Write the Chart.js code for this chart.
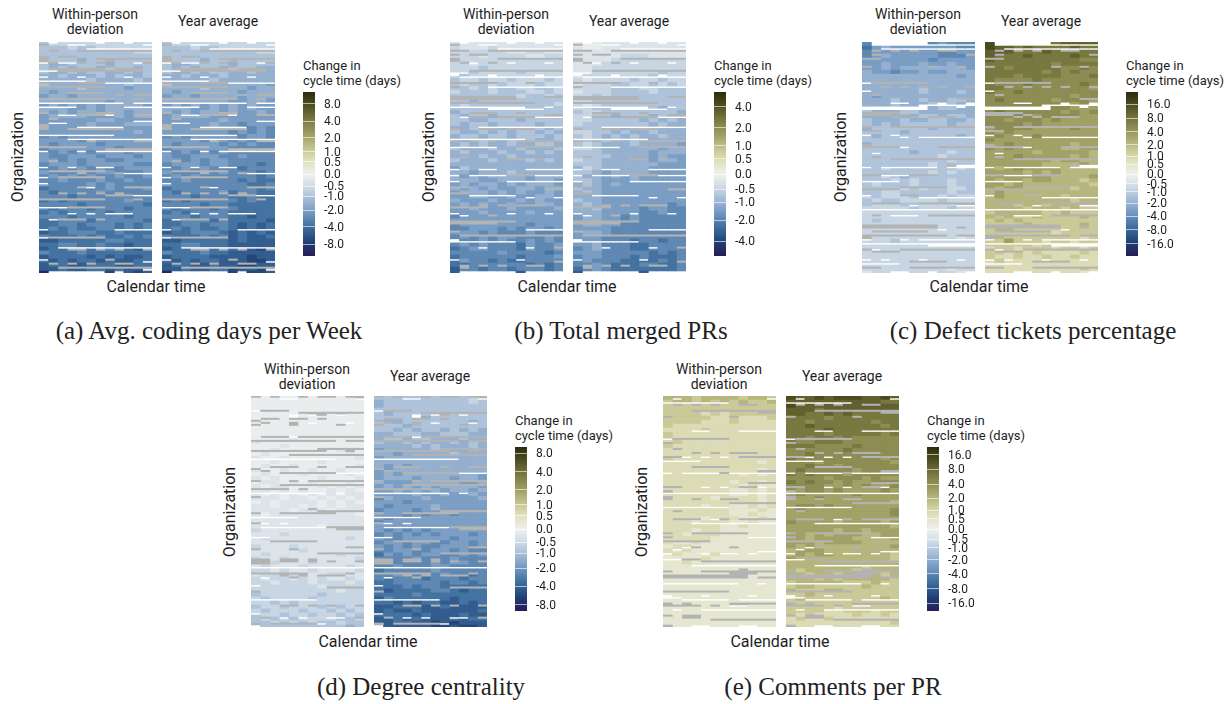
<!DOCTYPE html>
<html><head><meta charset="utf-8">
<script src="https://cdn.jsdelivr.net/npm/chart.js@4/dist/chart.umd.min.js"></script>
<style>
html,body{margin:0;padding:0;background:#fff;width:1231px;height:704px;overflow:hidden}
#root{position:relative;width:1231px;height:704px}
canvas{position:absolute;display:block}
canvas.heat{filter:blur(.45px)}
.t{position:absolute;font-family:Roboto,sans-serif;color:#1e1e1e;white-space:nowrap;line-height:1}
.c{transform:translate(-50%,-50%);text-align:center}
.cap{position:absolute;font-family:"Liberation Serif",serif;font-size:25px;color:#222;white-space:nowrap;transform:translate(-50%,-50%);line-height:1}
</style></head><body><div id="root"></div>
<script>
// Shade codes: 0-9,x = blue side (light to dark); a-j = olive side (light to dark)
const columns = ['1','2','3','4','5','6','7','8','9','10','11','12'];
const ticks8 = ['8.0','4.0','2.0','1.0','0.5','0.0','-0.5','-1.0','-2.0','-4.0','-8.0'];
const ticks4 = ['4.0','2.0','1.0','0.5','0.0','-0.5','-1.0','-2.0','-4.0'];
const ticks16 = ['16.0','8.0','4.0','2.0','1.0','0.5','0.0','-0.5','-1.0','-2.0','-4.0','-8.0','-16.0'];

const withinA = ["322222222222","333233222222","333333333322","333333333333","333343333333","344333343333","343433433343","344343344343","443444343443","444443444434","344444444344","444434444544","454444444444","544544444444","444444454444","545454544445","444554544444","454544544544","544445554544","555555445555","555554555444","455555545555","555555555545","656555555555","555565555555","565555655555","655555556555","565656555655","566555655565","556565566555","655565555566","665656566555","566656556665","656565665665","665666566566","566665656666","766666656665","676666566666","666766666666","767666666566","666676666667","676667666766","767666676666","666766666766","776667666667","776676667676","767677667676","877666776777","677767677676","887777766777","776677677877","877777767787","677767777777","877778787887","787877878877","877887778877","887887787887","x88888998898"];
const yearA = ["322222222222","333233222222","333333333322","333333333333","333343333333","344333343333","343433433344","344343344344","443444344444","444443444444","344444444445","444434444544","454444445444","544544445444","444444455445","545454545455","444554545455","454544545545","544445555555","555555455555","555554556555","455555555656","555555565656","656555556556","555565565666","565555656566","655555566666","565656566666","566555665666","556565566666","655565566676","665656667666","566656566676","656566666676","665666667677","566666666776","766666666676","676666576677","666766677677","767666667677","666676677777","676667667777","767666677777","666766677877","776667677778","776676678787","767677678787","877666787878","677767687887","887777787888","776677788888","877777778898","677767788888","877778888988","787877888998","877887889988","887887798898","x88888999998"];
const withinB = ["111111111111","211121111111","222222112211","222122221122","222222222222","221222222222","222322222222","223222232222","232222222322","322322322232","323323222322","332323322332","233323332232","333333323323","334333333333","323333333332","333333433333","433333333333","343343333343","334433343333","343343333433","443334344343","344343433434","433433433343","344334343443","434344344334","344434434443","434443443434","444344344444","344434443434","444444444444","534444444444","445444344444","454544445444","444554445445","545445454445","454545544544","544454545545","554455455445","455545545455","545455455445","554555455554","555455554555","655555555555","555555555555","655555556555","665556565565","555656665666","656565566656","766565665656","656566675665","765566675665","666665666676","766666676665","756676776666","776666667676","866766766676","887777888777"];
const yearB = ["000111111111","100111111111","111111111111","111112221111","111122222222","111222222222","112222222222","112222222322","122222223222","212222322322","122233223232","222233322333","122233332333","223233333333","223333333333","212333333333","223333343433","322333333334","223343334344","223333343434","233333334344","333334344444","223343443444","323434344344","233334344444","323444344445","223444444544","333444445444","333344445455","233444445445","333444444555","423444445555","334544445555","344545455555","334555455555","434545555555","344555555555","434555555555","444555555555","344555555555","434555555565","443555565566","444555566566","544556566666","544556566666","544556666666","555566666666","544566666666","555666666666","655666766766","554666776666","654666776666","555666667676","655666767776","656667777676","665677766776","765677777776","877777788777"];
const withinC = ["655555565666","754555555566","655555556655","654555556665","555555565555","554555455455","554544444445","455655455444","444444444454","444444444444","444444444444","444444344444","444444344434","454444444444","444344344334","444344433343","434444443344","344433444444","444444334334","344434433443","343433333433","433333343333","333343333333","343333333343","333333333333","433333333333","333333333333","333334333233","333333332333","333333333233","333333323333","332333333323","333333323233","332343333333","333232333233","323332333233","333323233223","332233333233","232223332322","323322223222","322233222222","222223222322","222222222222","222222222222","232222222222","222222222222","222222222222","222222222222","222222222212","222322222222","222222222222","222222222222","222222222222","222222222222","222222222222","222222222222","222222222122","122222222212"];
const yearC = ["ihgggghghhhh","ihhghgggghgg","hhhggghggggg","hggghgggghgg","hgggggggggff","gggggggfgggg","ggfgggggffgf","ggggggfgfgff","gggfggggfffg","gffffgffffff","gfffgfffffgf","ggfffffffffe","gffgffffffff","fffffffffeff","fgfffffefffe","fffffffffeff","gfffffeffeee","fgffffffefef","fffffeffffee","ffefffefeeee","ffffefeeeeee","effffeeeefee","fefeeeeeeeee","efeeefeeeeee","feeeeeeeeeee","eefeeeeeedee","fefeeeeeddee","eeeeedeeeeed","eeefeeeeeded","eeeeeeedeedd","eeeeeedddded","edefeeeedddd","eeeedededddd","eeeeeeedddde","edeedeedddcd","eededddddddc","edeedddddcdd","dedddddddddd","deddddddcddd","dddddddddcdd","dddcddcddddc","ddddcdddcdcc","cdddddccdccc","dcdccdccccdc","cdcdcccccccc","ccccdcccccdc","cddccccccccc","cccccccbcccc","cdccccccccbc","ccecccbccbcc","cccccbcccbbb","bccbcccbccbc","ccbcbcbbbbcb","cbbcbbcbbcbb","bcbbbbbbbbbb","bbbbbbbbbbbb","bbbbbbbbbbcb","bbbbbbbbbbab"];
const withinD = ["000000000000","000000000000","000000000000","000000000000","000000000000","000000000000","000000000000","000000000000","000000000000","000000000000","000010000000","100000000000","000100000000","001000000100","010000000010","100100000001","001000010000","010010000001","100100100100","010001000010","101000010001","011010100010","101100010101","110101001010","101010101011","111011010101","010111101010","110110101011","111101110111","101111111110","111111111111","111111111111","111111101111","211111111111","111211111111","121111111121","111111111111","211121111111","111112111111","121111111211","211211111112","112111211111","121112111121","221211211112","122121112211","212212121121","221222122212","222222212222","222222222122","322222232222","232222322222","223232222222","322322232322","232223223232","322322322323","323232222332","332323233233","433333333343"];
const yearD = ["333333333323","433333333323","433333333333","333333333333","343333333333","333334333333","344333333343","333433333333","334343343434","443334433344","433433444344","344343443434","444434344434","544444344444","445444443444","544444444444","444444444444","454544444444","554444444444","545444444445","544454445445","455544444554","545454544445","554545454454","555545545545","645554555554","555655555555","565555455555","655565555555","555656556555","565555555555","655555555555","555555555555","565656555555","656565655565","566555556555","655655665565","565656655565","665566556566","756565566565","666656665666","576666565566","665666556666","766666566666","665766656676","676667666766","776666676676","777676677777","787777667877","777767777777","867777778777","778787788787","887778878888","878878888887","777787888788","887878887877","887788989888","x88888998998"];
const withinE = ["dddcddddcddc","cddcdcdcdccd","cccccccccccc","cccccccccccc","ccccbcbccccc","cccccbbcbbbc","ccccbbbcbbbb","cbbbbbbbbbbb","bbbbcbbbbbbb","cbbbbbbbbbbb","cbbbbbbbbbbb","bcbbbbbbbbbb","cbbbbbbbbbbb","bbbbbbbbbbbb","bbbbbbbbbbbb","cbbbbbbbbbbb","bbbbbbbbbbab","bbbbbbbbbbbb","bbbbbbbbbbab","bbbbbbbbabab","bbbbbbbbbbbb","bbbbbbbabbab","bbbbbbbbabaa","bbbbbbbaabab","bbbbbbbaabab","bbbbbabbbbab","bbbbbbbbbbab","bbbbabbaabab","bbbbbbbaaaba","bbbbbbbaabaa","bbbbabbbaaba","bbbabbbaabaa","bbbbbbaabaaa","bbbabbaaaaaa","bbabbbaaaaaa","bbbbbaaaaaaa","baabaaaaaaaa","abbaaaaaaaaa","babaaaaaaaaa","abaaabaaaaaa","aaaabaaaaaaa","aabaaaaaaaaa","aaaaaaaaaaaa","aaaaaaaaaaaa","aaaaaaaaaaaa","aaaaaaaaaaaa","aaaaaaaaaaaa","aaaaaaaaaaaa","aaaaaaaaaaaa","aaaaaaaaaaaa","aaaaaaaaaaaa","aaaaaaaaaaaa","aaaaaaaaaaaa","aaaaaaaaaaaa","aaaaaaaaaaaa","aaaaaaaaaaaa","aaaaaaaaaaaa","aaaaaaaaaaaa"];
const yearE = ["ihhihiiihhih","hhhhhhhhhhgg","ihhhhhhhhhhh","hhhghhhhhhhh","hhgghghggggg","ggggfggggggg","ggfggggggfgg","gghgggggggfg","gggghggggggg","ggggfgggggfg","ggfggfgfffff","gffgggffffff","gggffffgffff","ffffffgfffff","ffgfffffffff","gfffffffffef","fffefffffffe","ffgffeffffff","fgfffffeffff","gfgfffefffff","ffffefffefee","gfgffefeefff","ffffeefefeef","feffefeeeefe","efeeeeefeeee","feefeeeeeeee","eeeeeeeeeeed","effefeeeeeee","efeeeeeeeeef","eeeeeeeeeeef","eeeeeeeeeeee","feeeedeeeede","eeeeeeeeeeed","eeeeedeedeee","eededeeeddee","eedeeeedddde","eeedeeeedddd","ededddddddde","deeedddddddd","dedeeddddddc","eddddddddddc","dddddddddddd","ddddddddcddd","dcdddddcdddd","ddcddcddcdcd","dddcdcdddddc","cdddddcccdcc","cddcccccdccc","dcccddcccccc","ccdccccccccc","cdccccccccdc","cccccccccccc","cccccbcccccc","ccccbbcccbcc","cbcbbbbcbbcb","bcbbcbbbbbbb","bbbbbbbbbbbc","bbbbbbbbbbbb"];

// Missing cells per panel: [organization row, first column, last column]
const whiteA = [[0,1,1],[0,6,6],[0,9,9],[1,3,4],[1,11,11],[3,5,11],[10,0,0],[10,2,3],[10,10,10],[14,0,1],[17,0,0],[17,4,4],[17,9,9],[19,0,4],[20,7,11],[30,0,8],[30,10,11],[32,0,3],[32,9,11],[36,2,3],[36,7,7],[39,10,11],[40,1,2],[42,4,8],[46,0,7],[48,3,11],[54,0,0],[54,4,4],[54,6,11],[62,0,0],[62,3,3],[62,6,7],[65,9,11],[67,0,0],[70,0,0],[72,5,5],[76,10,11],[82,0,2],[85,3,3],[85,5,5],[85,7,9],[88,1,1],[93,0,0],[93,8,11],[97,0,0],[102,2,11],[108,0,0],[109,11,11],[113,11,11],[114,1,6],[114,8,8]];
const grayA = [[1,0,0],[4,1,1],[4,4,4],[4,5,11],[7,0,0],[7,2,3],[8,0,0],[8,6,11],[9,0,0],[9,7,7],[10,1,1],[10,4,4],[10,6,6],[10,11,11],[12,7,7],[13,1,6],[13,8,10],[14,2,10],[20,0,0],[20,4,6],[22,0,6],[25,3,6],[26,8,8],[26,10,11],[28,0,7],[28,10,10],[35,0,0],[35,6,7],[36,4,6],[36,10,11],[38,1,1],[41,0,0],[42,0,0],[43,0,0],[43,3,8],[49,5,5],[49,10,11],[52,0,4],[53,7,11],[59,1,1],[64,1,6],[65,4,4],[65,8,8],[67,2,6],[72,4,4],[72,9,11],[75,2,2],[75,4,4],[75,6,6],[75,8,8],[76,7,9],[78,0,6],[78,10,10],[82,3,6],[88,2,4],[88,6,6],[97,1,6],[103,3,4],[103,6,6],[103,8,8],[103,11,11],[108,7,7],[110,1,1],[110,3,3],[110,5,5],[110,8,9],[112,2,11]];
const whiteB = [[0,1,1],[0,6,6],[0,9,9],[1,3,4],[1,11,11],[3,5,11],[10,2,2],[10,6,6],[10,10,10],[15,0,1],[16,0,0],[16,4,4],[16,9,9],[17,1,11],[22,4,7],[22,8,11],[32,0,7],[32,10,10],[33,4,9],[37,1,1],[37,9,11],[42,3,11],[48,0,7],[52,0,4],[63,0,0],[63,3,4],[63,8,11],[66,0,0],[66,2,5],[66,9,11],[69,0,0],[69,6,11],[76,2,6],[77,8,8],[77,11,11],[85,0,0],[85,6,6],[85,10,10],[86,1,1],[93,8,11],[98,0,0],[99,0,6],[102,3,3],[102,8,8],[108,0,0],[108,7,7],[114,1,6],[114,8,11]];
const grayB = [[1,0,0],[4,0,1],[4,4,4],[4,5,11],[6,0,0],[6,2,3],[8,0,0],[8,5,11],[9,0,0],[10,1,1],[10,4,4],[14,2,11],[20,0,4],[20,8,8],[22,0,0],[27,0,6],[27,10,11],[28,0,6],[30,0,8],[35,2,4],[35,7,7],[36,10,11],[37,2,3],[37,5,8],[43,0,0],[43,3,4],[43,6,8],[49,0,0],[49,2,2],[49,4,4],[49,7,11],[52,7,11],[57,1,1],[58,6,7],[58,9,9],[66,6,8],[72,0,1],[73,10,11],[75,0,1],[81,3,3],[81,5,5],[81,7,9],[82,0,3],[86,4,4],[89,0,6],[90,0,4],[94,0,0],[96,1,11],[102,11,11],[109,11,11],[111,1,1],[111,3,3],[111,5,5],[111,8,9],[112,1,1]];
const whiteC = [[0,1,6],[1,1,11],[3,2,9],[3,10,11],[20,0,0],[24,0,0],[30,3,4],[30,8,8],[30,11,11],[31,6,11],[32,0,6],[32,10,10],[33,0,6],[46,0,0],[46,3,3],[47,4,4],[47,6,8],[47,9,11],[52,4,4],[55,1,1],[61,10,11],[62,0,0],[62,2,6],[62,7,7],[62,9,11],[66,2,4],[69,0,3],[76,0,0],[77,6,11],[81,5,5],[81,10,11],[83,0,11],[86,3,5],[93,8,8],[98,0,0],[98,4,4],[98,6,8],[98,9,11],[100,0,11],[101,7,11],[103,1,1],[108,0,0],[108,2,2],[108,6,6],[108,10,10],[110,0,3],[114,3,4],[114,7,7],[114,11,11]];
const grayC = [[4,1,1],[4,3,3],[4,5,5],[4,8,9],[6,1,1],[6,11,11],[8,0,1],[12,0,0],[12,7,7],[12,10,10],[20,1,6],[22,2,2],[22,4,4],[22,6,6],[22,8,8],[22,11,11],[26,1,1],[28,10,11],[35,0,3],[36,0,2],[36,4,4],[37,3,3],[37,5,5],[37,7,9],[42,0,0],[42,3,11],[44,0,1],[51,0,0],[52,0,3],[52,8,11],[57,1,1],[58,3,11],[61,9,9],[66,0,1],[66,5,7],[72,4,8],[73,0,3],[76,4,5],[80,1,3],[80,6,11],[86,1,1],[86,7,11],[91,0,7],[92,0,7],[92,10,10],[94,1,6],[96,0,8],[96,10,11],[97,0,0],[103,0,0],[103,4,11],[104,1,3],[109,5,8],[112,0,1],[112,5,11]];
const whiteD = [[1,3,4],[1,11,11],[7,0,0],[9,4,4],[9,6,6],[9,9,9],[10,4,4],[13,6,6],[13,10,10],[20,4,4],[31,0,8],[38,9,11],[48,0,7],[48,9,9],[60,0,4],[63,1,1],[63,3,3],[65,1,7],[70,0,1],[85,0,11],[90,1,1],[94,0,0],[101,0,6],[108,0,0],[110,3,3],[110,5,5],[110,8,9],[113,7,7],[114,0,0]];
const grayD = [[0,0,0],[0,2,2],[0,5,5],[0,7,8],[0,10,11],[7,1,2],[7,3,3],[8,5,11],[9,7,7],[11,1,2],[11,4,5],[11,7,7],[12,0,0],[13,1,1],[13,4,4],[14,0,0],[14,4,4],[14,9,9],[20,1,3],[20,5,11],[22,0,8],[22,10,11],[26,7,11],[27,0,7],[27,10,10],[29,4,11],[35,2,4],[35,7,7],[35,10,11],[36,0,0],[37,1,1],[38,3,8],[42,0,0],[42,4,4],[42,6,11],[44,3,11],[46,0,3],[46,5,5],[50,0,0],[56,6,6],[57,7,11],[58,0,0],[58,3,8],[63,0,0],[65,8,11],[66,9,11],[72,2,6],[75,10,11],[76,0,0],[76,4,4],[78,7,11],[81,0,1],[81,3,4],[81,6,6],[82,0,1],[82,3,4],[82,6,6],[82,8,8],[82,11,11],[83,0,1],[88,0,5],[88,10,10],[89,3,3],[89,5,5],[89,7,9],[90,4,4],[95,8,11],[97,0,0],[104,3,4],[104,6,6],[104,8,8],[104,11,11],[110,1,1],[110,11,11],[113,0,0],[113,2,6]];
const whiteE = [[1,1,1],[1,11,11],[3,0,6],[17,3,4],[17,8,11],[21,0,0],[30,2,2],[30,4,4],[30,6,6],[32,0,3],[38,0,0],[38,2,5],[38,7,11],[45,4,4],[45,6,6],[45,10,10],[48,0,11],[55,0,6],[61,5,5],[63,3,11],[70,9,11],[75,2,2],[76,1,1],[77,10,11],[78,0,0],[78,4,4],[78,6,7],[78,9,9],[81,0,1],[84,3,11],[93,0,7],[93,10,10],[99,0,0],[99,4,4],[99,9,9],[100,0,1],[101,2,6],[101,8,11],[104,7,8],[106,1,1],[106,4,11],[114,3,4],[114,8,9]];
const grayE = [[4,1,1],[4,3,3],[4,5,5],[4,8,9],[7,3,11],[8,10,11],[10,0,0],[10,7,7],[21,1,6],[23,0,0],[26,1,1],[28,3,3],[28,5,5],[28,7,9],[30,0,1],[30,8,11],[35,3,6],[37,10,11],[38,6,6],[43,9,11],[45,0,1],[45,8,9],[47,0,0],[50,0,0],[51,0,0],[51,3,3],[51,6,7],[53,7,11],[57,1,1],[61,1,3],[61,6,6],[61,8,11],[68,0,0],[68,3,8],[70,0,0],[72,0,4],[75,3,3],[75,7,7],[81,2,3],[82,4,11],[86,8,8],[87,0,0],[87,4,11],[88,7,9],[89,0,8],[90,0,8],[90,10,11],[97,0,6],[103,0,0],[103,2,2],[103,7,11],[104,0,3],[104,5,5],[109,0,0],[109,2,3],[110,2,3],[111,5,7],[111,8,11],[114,0,0]];

const rampStops = [[-1,'#2a1b58'],[-.854,'#1e3b70'],[-.646,'#3f6f9f'],[-.445,'#7c9ec5'],[-.29,'#a9bfd8'],[-.17,'#cbd8e5'],[-.03,'#e9edee'],[0,'#f0f0ec'],[.17,'#dedfbc'],[.29,'#c9c997'],[.445,'#a6a66b'],[.646,'#7c7c44'],[.854,'#4b4b1f'],[1,'#2c2b0d']];
const panels = [
 {dx:0,dy:0,heatDy:0,within:withinA,year:yearA,white:whiteA,gray:grayA,ticks:ticks8,scale:3.25,cap:'(a) Avg. coding days per Week',capX:209,capY:330},
 {dx:411,dy:0,heatDy:0,within:withinB,year:yearB,white:whiteB,gray:grayB,ticks:ticks4,scale:2.55,cap:'(b) Total merged PRs',capX:621,capY:330},
 {dx:823,dy:0,heatDy:0,within:withinC,year:yearC,white:whiteC,gray:grayC,ticks:ticks16,scale:4.07,cap:'(c) Defect tickets percentage',capX:1033,capY:330},
 {dx:212,dy:355,heatDy:-1,within:withinD,year:yearD,white:whiteD,gray:grayD,ticks:ticks8,scale:3.0,cap:'(d) Degree centrality',capX:421,capY:686},
 {dx:624,dy:355,heatDy:-1,within:withinE,year:yearE,white:whiteE,gray:grayE,ticks:ticks16,scale:3.82,cap:'(e) Comments per PR',capX:833,capY:686}
];
const ROWS = 115, NA = '#b2b3b3';
const root = document.getElementById('root');

function hex(c){return [1,3,5].map(i=>parseInt(c.substr(i,2),16));}
function ramp(f){
  for(let i=1;i<rampStops.length;i++){
    const [f0,c0]=rampStops[i-1],[f1,c1]=rampStops[i];
    if(f<=f1){const t=(f-f0)/(f1-f0),a=hex(c0),b=hex(c1);
      return 'rgb('+a.map((v,k)=>Math.round(v+(b[k]-v)*t)).join(',')+')';}
  }
  return rampStops[rampStops.length-1][1];
}
function shade(ch){
  if(ch==='x') return -.95;
  if(ch==='0') return -.03;
  if(ch>='1'&&ch<='9') return -(+ch)*.09;
  return (ch.charCodeAt(0)-96)*.095;
}
function mk(tag,cls,x,y,w,h){const c=document.createElement(tag);c.className=cls;c.style.left=x+'px';c.style.top=y+'px';
  if(tag==='canvas'){c.width=w;c.height=h;c.style.width=w+'px';c.style.height=h+'px';}root.appendChild(c);return c;}
function text(s,x,y,size,center,rot){const d=mk('div','t'+(center?' c':''),x,y);d.style.fontSize=size+'px';d.textContent=s;
  if(rot)d.style.transform='translate(-50%,-50%) rotate(-90deg)';return d;}

function heat(x,y,vals,white,gray){
  const c=mk('canvas','heat',x,y,113,231);
  const orgs=Array.from({length:ROWS},(_,i)=>'org'+i);
  const colors=columns.map((_,col)=>orgs.map((_,r)=>ramp(shade(vals[Math.min(r>>1,vals.length-1)][col]))));
  gray.forEach(([r,a,b])=>{for(let k=a;k<=b;k++) if(r<ROWS) colors[k][r]=NA;});
  white.forEach(([r,a,b])=>{for(let k=a;k<=b;k++) if(r<ROWS) colors[k][r]='rgba(255,255,255,0)';});
  new Chart(c,{type:'bar',data:{labels:orgs,datasets:columns.map((n,k)=>({label:n,data:orgs.map(()=>1),backgroundColor:colors[k],borderWidth:0,barPercentage:1,categoryPercentage:1,inflateAmount:.3}))},
    options:{indexAxis:'y',responsive:false,animation:false,devicePixelRatio:1,layout:{padding:0},
      plugins:{legend:{display:false},tooltip:{enabled:false},title:{display:false}},
      scales:{x:{stacked:true,min:0,max:12,display:false},y:{stacked:true,display:false}}}});
}
function legendBar(x,y,tickLabels,scale){
  const c=mk('canvas','',x,y,75,164);
  const g=c.getContext('2d').createLinearGradient(0,0,0,164);
  rampStops.forEach(([f,col])=>g.addColorStop((1-f)/2,col));
  const pos=tickLabels.map(s=>Math.asinh(parseFloat(s))/scale);
  new Chart(c,{type:'bar',data:{labels:['bar'],datasets:[{data:[[-1,1]],backgroundColor:g,borderWidth:0,barPercentage:1,categoryPercentage:1,inflateAmount:0}]},
    options:{responsive:false,animation:false,devicePixelRatio:1,layout:{padding:0},
      plugins:{legend:{display:false},tooltip:{enabled:false}},
      scales:{x:{display:false},
        y:{position:'right',min:-1,max:1,border:{display:false},
          grid:{color:'rgba(255,255,255,.6)',z:1,drawTicks:false,lineWidth:1},
          afterBuildTicks:a=>{a.ticks=pos.map(v=>({value:v}));},
          afterFit:a=>{a.width=63;a.paddingTop=0;a.paddingBottom=0;},
          ticks:{autoSkip:false,padding:9,labelOffset:1,color:'#1e1e1e',font:{family:'Roboto',size:12},maxRotation:0,
            callback:(v,i)=>tickLabels[i]}}}}});
}
panels.forEach(p=>{
  const {dx,dy}=p;
  heat(39+dx,42+dy+p.heatDy,p.within,p.white,p.gray);
  heat(162+dx,42+dy+p.heatDy,p.year,p.white,p.gray);
  text('Within-person',95+dx,14+dy,14,true);
  text('deviation',95+dx,29+dy,14,true);
  text('Year average',218+dx,21+dy,14,true);
  text('Organization',18+dx,157+dy,16,true,true);
  text('Calendar time',156+dx,287+dy,16,true);
  text('Change in',303+dx,59+dy,13);
  text('cycle time (days)',303+dx,74+dy,13);
  legendBar(303+dx,92+dy,p.ticks,p.scale);
  const d=document.createElement('div');d.className='cap';d.textContent=p.cap;d.style.left=p.capX+'px';d.style.top=p.capY+'px';root.appendChild(d);
});
</script></body></html>
